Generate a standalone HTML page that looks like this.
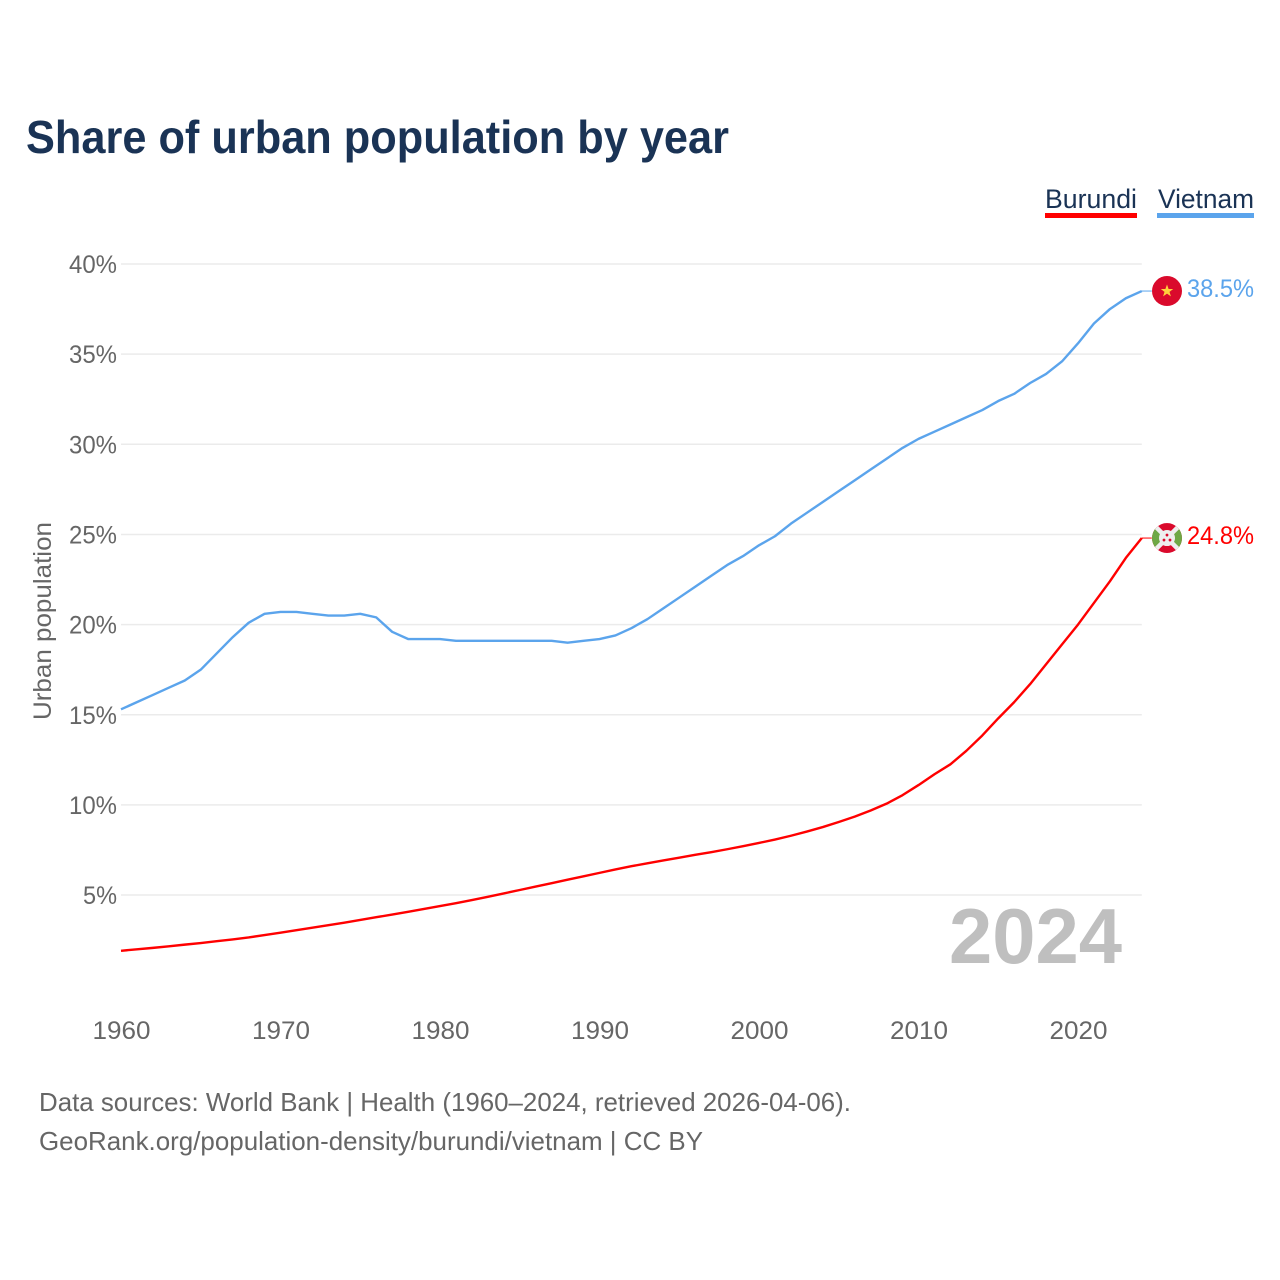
<!DOCTYPE html>
<html lang="en">
<head>
<meta charset="utf-8">
<title>Share of urban population by year</title>
<style>
html,body{margin:0;padding:0;background:#fff;}
svg{display:block;font-family:"Liberation Sans",sans-serif;}
</style>
</head>
<body>
<svg id="chart" xmlns="http://www.w3.org/2000/svg" width="1280" height="1280" viewBox="0 0 1280 1280">
  <rect x="0" y="0" width="1280" height="1280" fill="#ffffff"/>
  <text x="26" y="153" font-size="46" font-weight="700" fill="#1a3355" textLength="703" lengthAdjust="spacingAndGlyphs">Share of urban population by year</text>

  <g>
    <g>
      <text x="1045" y="208" font-size="27" fill="#1a3355" textLength="92" lengthAdjust="spacingAndGlyphs">Burundi</text>
      <rect x="1045" y="213" width="92" height="5" fill="#ff0000"/>
    </g>
    <g>
      <text x="1158" y="208" font-size="27" fill="#1a3355" textLength="96" lengthAdjust="spacingAndGlyphs">Vietnam</text>
      <rect x="1157" y="213" width="97" height="5" fill="#5ba4ec"/>
    </g>
  </g>

  <g id="grid"></g>
  <g id="yticks"></g>
  <g id="xticks"></g>
  <text transform="translate(51 621) rotate(-90)" text-anchor="middle" font-size="25" fill="#666666" textLength="198" lengthAdjust="spacingAndGlyphs">Urban population</text>

  <g id="series"></g>

  <g id="flag-vietnam">
    <circle cx="0" cy="0" r="15" fill="#da0a2c"/>
    <polygon points="0,-6.5 1.6,-2 6.2,-2 2.5,0.8 3.9,5.3 0,2.6 -3.9,5.3 -2.5,0.8 -6.2,-2 -1.6,-2" fill="#ffd23c"/>
  </g>
  <g id="flag-burundi">
    <clipPath id="burundi-clip"><circle cx="0" cy="0" r="15"/></clipPath>
    <g clip-path="url(#burundi-clip)">
      <rect x="-15" y="-15" width="30" height="30" fill="#da0a2c"/>
      <polygon points="-15,-15 0,0 -15,15" fill="#6ea845"/>
      <polygon points="15,-15 0,0 15,15" fill="#6ea845"/>
      <path d="M-15,-15L15,15M15,-15L-15,15" stroke="#eeeeee" stroke-width="4.5"/>
      <circle cx="0" cy="0" r="8" fill="#eeeeee"/>
      <circle cx="0" cy="-3" r="1.4" fill="#da0a2c"/>
      <circle cx="-3" cy="2" r="1.4" fill="#da0a2c"/>
      <circle cx="3" cy="2" r="1.4" fill="#da0a2c"/>
    </g>
  </g>
  <text id="value-vietnam" x="1187" font-size="25" fill="#5ba4ec" textLength="67" lengthAdjust="spacingAndGlyphs"></text>
  <text id="value-burundi" x="1187" font-size="25" fill="#ff0000" textLength="67" lengthAdjust="spacingAndGlyphs"></text>

  <text id="year-label" x="949" y="963" font-size="78" font-weight="700" fill="#bfbfbf" textLength="173" lengthAdjust="spacingAndGlyphs">2024</text>

  <text x="39" y="1111" font-size="26" fill="#666666" textLength="812" lengthAdjust="spacingAndGlyphs">Data sources: World Bank | Health (1960–2024, retrieved 2026-04-06).</text>
  <text x="39" y="1150" font-size="26" fill="#666666" textLength="664" lengthAdjust="spacingAndGlyphs">GeoRank.org/population-density/burundi/vietnam | CC BY</text>
</svg>
<script>
const startYear = 1960;
const yTickValues = [5, 10, 15, 20, 25, 30, 35, 40];
const xTickValues = [1960, 1970, 1980, 1990, 2000, 2010, 2020];
const vietnamValues = [15.3,15.7,16.1,16.5,16.9,17.5,18.4,19.3,20.1,20.6,20.7,20.7,20.6,20.5,20.5,20.6,20.4,19.6,19.2,19.2,19.2,19.1,19.1,19.1,19.1,19.1,19.1,19.1,19.0,19.1,19.2,19.4,19.8,20.3,20.9,21.5,22.1,22.7,23.3,23.8,24.4,24.9,25.6,26.2,26.8,27.4,28.0,28.6,29.2,29.8,30.3,30.7,31.1,31.5,31.9,32.4,32.8,33.4,33.9,34.6,35.6,36.7,37.5,38.1,38.5];
const burundiValues = [1.91,1.99,2.07,2.16,2.25,2.34,2.44,2.54,2.65,2.78,2.91,3.05,3.19,3.33,3.47,3.62,3.77,3.92,4.07,4.23,4.39,4.55,4.72,4.9,5.09,5.28,5.47,5.66,5.85,6.04,6.23,6.42,6.6,6.76,6.92,7.07,7.23,7.38,7.54,7.71,7.89,8.08,8.29,8.52,8.77,9.05,9.35,9.69,10.07,10.54,11.1,11.7,12.25,13.0,13.85,14.8,15.7,16.7,17.8,18.9,20.0,21.2,22.4,23.7,24.8];

const NS = 'http://www.w3.org/2000/svg';
function xScale(year) { return 121 + (year - 1960) * 15.95; }
function yScale(value) { return 264 + (40 - value) * 18.03; }
const lastYear = startYear + vietnamValues.length - 1;
const plotRight = xScale(lastYear);

function make(tag, attrs, parent, text) {
  const el = document.createElementNS(NS, tag);
  for (const k in attrs) el.setAttribute(k, attrs[k]);
  if (text !== undefined) el.textContent = text;
  parent.appendChild(el);
  return el;
}

const gridGroup = document.getElementById('grid');
const yGroup = document.getElementById('yticks');
yTickValues.forEach(function (v) {
  const line = make('line', {x1: 121, x2: plotRight, y1: yScale(v), y2: yScale(v), stroke: '#ebebeb', 'stroke-width': 1.5}, gridGroup);
  
  
  const label = make('text', {x: 117, y: yScale(v) + 9, 'text-anchor': 'end', 'font-size': 25, fill: '#666666', textLength: v < 10 ? 34 : 48, lengthAdjust: 'spacingAndGlyphs'}, yGroup, v + '%');
  
  
});

const xGroup = document.getElementById('xticks');
xTickValues.forEach(function (yr) {
  const label = make('text', {x: xScale(yr) + 0.5, y: 1039, 'text-anchor': 'middle', 'font-size': 25, fill: '#666666', textLength: 58, lengthAdjust: 'spacingAndGlyphs'}, xGroup, String(yr));
  
  
});

function linePath(values) {
  return values.map(function (v, i) {
    return (i ? 'L' : 'M') + xScale(startYear + i).toFixed(2) + ',' + yScale(v).toFixed(2);
  }).join('');
}

const seriesGroup = document.getElementById('series');
const vietnamLine = make('path', {d: linePath(vietnamValues), fill: 'none', stroke: '#5ba4ec', 'stroke-width': 2.4, 'stroke-linejoin': 'round'}, seriesGroup);


const burundiLine = make('path', {d: linePath(burundiValues), fill: 'none', stroke: '#ff0000', 'stroke-width': 2.4, 'stroke-linejoin': 'round'}, seriesGroup);



function placeEnd(values, color, flagId, labelId, key) {
  const last = values[values.length - 1];
  const y = yScale(last);
  const leader = make('line', {x1: plotRight, x2: plotRight + 10, y1: y, y2: y, stroke: color, 'stroke-width': 1}, seriesGroup);
  
  
  document.getElementById(flagId).setAttribute('transform', 'translate(1167 ' + y + ')');
  const label = document.getElementById(labelId);
  label.setAttribute('y', y + 6);
  label.textContent = last.toFixed(1) + '%';
}
placeEnd(vietnamValues, '#5ba4ec', 'flag-vietnam', 'value-vietnam', 'vietnam');
placeEnd(burundiValues, '#ff0000', 'flag-burundi', 'value-burundi', 'burundi');
</script>
</body>
</html>
